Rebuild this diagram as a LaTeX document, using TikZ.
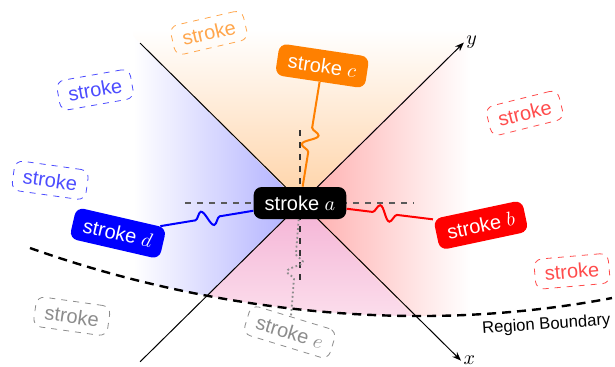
\documentclass[tikz,border=0pt]{standalone}
\usepackage{fontspec}
\setmainfont{Liberation Sans}
\usepackage{xcolor}
\usepackage{tikz}
\usetikzlibrary{arrows.meta,positioning,decorations.pathmorphing}
\definecolor{regionpink}{RGB}{244,178,213}
\definecolor{regionpinkLight}{RGB}{252,224,237}
\definecolor{ghostgray}{RGB}{140,140,140}

\begin{document}
\begin{tikzpicture}[every node/.style={font=\normalsize},
  strokebox/.style={rounded corners=4pt, inner xsep=5.5pt, minimum height=16pt, text=white},
  ghost/.style={draw=#1, text=#1, dashed, rounded corners=4pt, inner xsep=5pt, minimum height=15pt},
  wavy/.style={line width=1pt, decorate, decoration={snake, segment length=11pt, amplitude=3.8pt, #1}}]
  \useasboundingbox (-5.272,-2.865) rectangle (5.536,3.568);
  \begin{scope}
    \clip (-2.93,-3) rectangle (2.99,3.04);
    \clip (-4.745,-0.791) parabola bend (2.109,-1.986) (5.483,-1.670) -- (5.483,4) -- (-4.745,4) -- cycle;
    \begin{scope}
      \clip (0,0) -- (-4,4) -- (4,4) -- cycle;
      \shade[top color=white, bottom color=orange!35] (-3,0) rectangle (3,3.04);
    \end{scope}
    \begin{scope}
      \clip (0,0) -- (-4,4) -- (-4,-4) -- cycle;
      \shade[left color=white, right color=blue!32] (-2.93,-3) rectangle (0,3.1);
    \end{scope}
    \begin{scope}
      \clip (0,0) -- (4,4) -- (4,-4) -- cycle;
      \shade[left color=red!33, right color=white] (0,-3) rectangle (2.99,3.1);
    \end{scope}
    \begin{scope}
      \clip (0,0) -- (-4,-4) -- (4,-4) -- cycle;
      \shade[top color=regionpink, bottom color=regionpinkLight] (-3,0) rectangle (3,-2.1);
    \end{scope}
  \end{scope}
  \coordinate (tl) at (-2.81,2.81);
  \coordinate (bl) at (-2.81,-2.79);
  \coordinate (xend) at (2.83,-2.77);
  \coordinate (yend) at (2.88,2.82);
  \draw[line width=0.5pt, -{Stealth[length=4.5pt]}] (tl) -- (xend) node[right, inner sep=1pt] (xlab) {$x$};
  \draw[line width=0.5pt, -{Stealth[length=4.5pt]}] (bl) -- (yend) node[right, inner sep=1pt] (ylab) {$y$};
  \draw[dashed, black!65, line width=0.6pt] (-2.02,0) -- (1.99,0);
  \draw[dashed, black!80, line width=0.6pt] (0,1.28) -- (0,-1.41);
  \draw[line width=1.2pt, dash pattern=on 4.5pt off 3pt] (-4.745,-0.791) parabola bend (2.109,-1.986) (5.483,-1.670);
  \node[font=\fontsize{8.3}{10}\selectfont, rotate=4] (rb) at (4.33,-2.144) {Region Boundary};
  \foreach \gx/\gy/\r/\c [count=\i] in {-1.60/2.99/13/orange!70, -3.60/1.99/10/blue!70, -4.39/0.40/-8/blue!70, 3.95/1.58/14/red!70, 4.78/-1.20/5/red!70, -4.01/-1.99/-8/ghostgray} {
    \node[ghost=\c, rotate=\r] (g\i) at (\gx,\gy) {stroke};
  }
  \node[strokebox, fill=black] (a) at (0,0) {stroke $a$};
  \node[strokebox, fill=red, rotate=12] (b) at (3.18,-0.39) {stroke $b$};
  \node[strokebox, fill=orange, rotate=-8.5] (c) at (0.39,2.41) {stroke $c$};
  \node[strokebox, fill=blue, rotate=-13] (d) at (-3.20,-0.53) {stroke $d$};
  \node[ghost=ghostgray, rotate=-17] (e) at (-0.18,-2.27) {stroke $e$};
  \draw[wavy={pre length=13pt, post length=17pt}, red] (a) -- (b);
  \draw[wavy={pre length=17.5pt, post length=19.5pt}, orange] (a) -- (c);
  \draw[wavy={pre length=17pt, post length=15pt}, blue] (a) -- (d);
  \draw[wavy={pre length=17.5pt, post length=16pt}, ghostgray, line width=0.9pt, dash pattern=on 0.9pt off 1.3pt] (a) -- (e);
\end{tikzpicture}
\end{document}
